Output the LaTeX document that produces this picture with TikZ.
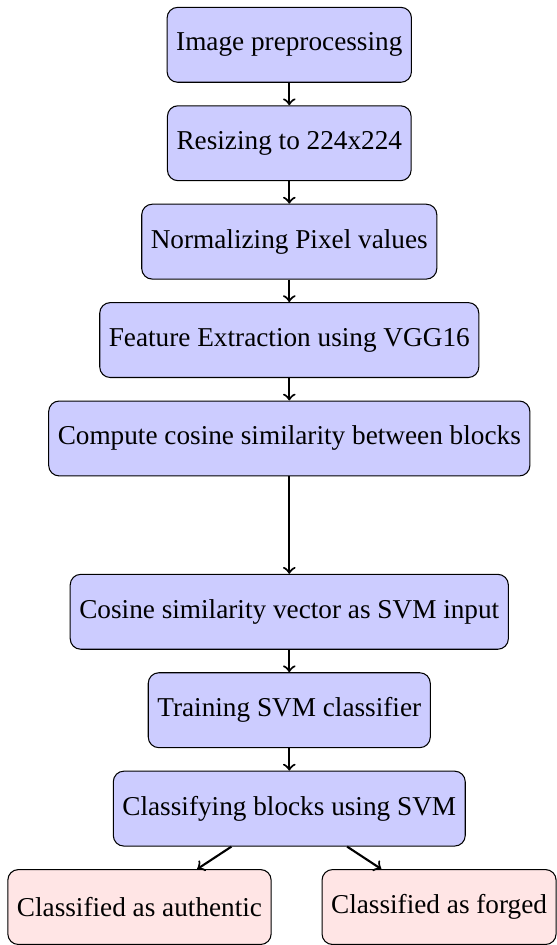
\documentclass[tikz,border=0pt]{standalone}
\usepackage{fontspec}
\setmainfont[Scale=1.035]{Liberation Serif}
\usetikzlibrary{positioning}

\begin{document}
\begin{tikzpicture}[node distance=0.3cm,
    stepbox/.style={rectangle, rounded corners, minimum height=1cm,
        text centered, draw=black, fill=blue!20},
    resultbox/.style={rectangle, rounded corners, minimum height=1cm,
        text centered, draw=black, fill=red!10},
    arrow/.style={thick, ->}]
    % pipeline
    \node [stepbox] (preproc) {Image preprocessing};
    \node [stepbox, below=of preproc] (resize) {Resizing to 224x224};
    \node [stepbox, below=of resize] (normal) {Normalizing Pixel values};
    \node [stepbox, below=of normal] (vgg) {Feature Extraction using VGG16};
    \node [stepbox, below=of vgg] (cosine) {Compute cosine similarity between blocks};
    \node [stepbox, below=1.3cm of cosine] (vector) {Cosine similarity vector as SVM input};
    \node [stepbox, below=of vector] (train) {Training SVM classifier};
    \node [stepbox, below=of train] (classify) {Classifying blocks using SVM};
    % outcome
    \node [resultbox, below=of classify, xshift=-2cm] (authentic) {Classified as authentic};
    \node [resultbox, below=of classify, xshift=2cm] (forged) {Classified as forged};

    \draw [arrow] (preproc) -- (resize);
    \draw [arrow] (resize) -- (normal);
    \draw [arrow] (normal) -- (vgg);
    \draw [arrow] (vgg) -- (cosine);
    \draw [arrow] (cosine) -- (vector);
    \draw [arrow] (vector) -- (train);
    \draw [arrow] (train) -- (classify);
    \draw [arrow] (classify) -- (authentic);
    \draw [arrow] (classify) -- (forged);

    \useasboundingbox ([xshift=-109.9pt, yshift=2.6pt]preproc.north)
        rectangle ++(209.5pt, -355.5pt);
\end{tikzpicture}
\end{document}
